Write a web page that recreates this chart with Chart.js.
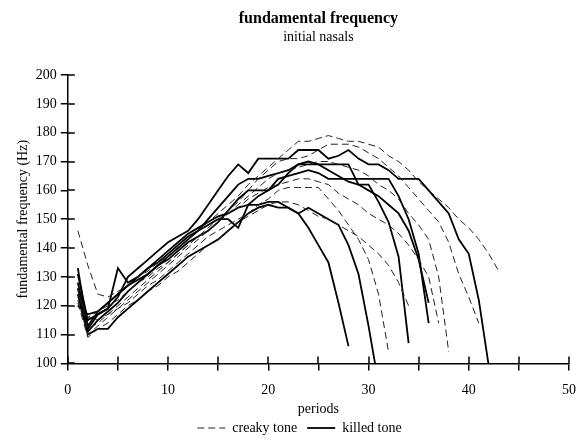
<!DOCTYPE html>
<html>
<head>
<meta charset="utf-8">
<script src="https://cdn.jsdelivr.net/npm/chart.js@4/dist/chart.umd.min.js"></script>
<style>
  html, body { margin: 0; padding: 0; background: #fff; }
  #wrap { width: 588px; height: 441px; }
</style>
</head>
<body>
<div id="wrap"><canvas id="f0"></canvas></div>
<script>
'use strict';

// F0 contours (Hz), one value per period, starting at period 1
const creaky1 = [146,134,124,123,125,127,130,132,135,137,140,143,146,149,152,155,158,162,165,168,171,174,177,177,178,179,178,177,177,176,175,172,170,167,163,160,157,154,150,147,143,138,132];
const creaky2 = [126,112,114,117,120,123,126,129,132,135,138,141,144,147,150,153,156,160,164,167,170,171,171,172,174,176,176,176,175,173,171,168,165,161,157,153,149,142,131,123,114];
const creaky3 = [122,110,113,116,119,122,125,128,131,134,137,140,143,146,149,152,155,158,161,164,166,167,168,169,170,170,169,168,167,165,162,160,157,152,148,143,130,104];
const creaky4 = [120,116,118,120,122,125,128,130,133,135,138,141,144,146,149,152,154,157,159,161,162,163,164,164,163,162,159,157,155,152,150,148,145,141,136,130,114];
const creaky5 = [124,116,115,117,119,121,124,127,129,132,135,138,141,144,146,148,150,152,155,157,160,161,161,161,161,157,153,148,143,136,124,104];
const creaky6 = [121,109,112,114,117,120,122,125,127,130,132,135,138,141,143,146,149,151,153,155,156,156,155,153,151,150,148,146,144,141,138,134,128,120];

const killed1 = [128,113,118,121,124,127,130,133,136,139,142,145,147,149,151,152,154,155,155,156,156,154,152,147,141,135,121,106];
const killed2 = [124,110,112,112,116,119,122,125,128,131,134,137,139,141,143,146,149,152,154,155,154,154,152,154,152,150,148,141,131,113,93];
const killed3 = [131,115,117,119,133,128,130,133,135,138,141,144,146,150,154,158,162,164,164,165,166,167,169,169,169,169,169,169,162,162,156,149,137,107];
const killed4 = [120,117,118,121,124,127,129,131,134,137,140,143,146,148,150,150,147,155,158,160,164,165,166,167,166,164,164,164,164,164,164,164,158,150,138,114];
const killed5 = [126,111,115,118,121,125,128,131,134,136,139,142,144,146,149,153,157,160,160,160,162,166,169,170,169,167,165,163,162,160,158,155,152,146,136,121];
const killed6 = [133,112,117,119,123,130,133,136,139,142,144,146,150,155,160,165,169,166,171,171,171,171,174,174,174,171,172,174,171,169,169,167,164,164,164,160,156,152,143,138,122,99];

const creakySeries = [creaky1, creaky2, creaky3, creaky4, creaky5, creaky6];
const killedSeries = [killed1, killed2, killed3, killed4, killed5, killed6];

const xTicks = [0, 10, 20, 30, 40, 50];
const yTicks = [100, 110, 120, 130, 140, 150, 160, 170, 180, 190, 200];

const SERIF = "'Liberation Serif', 'Times New Roman', serif";

const toPoints = arr => arr.map((v, i) => ({ x: i + 1, y: v }));

const datasets = [
  ...creakySeries.map(s => ({
    label: 'creaky tone', data: toPoints(s),
    borderColor: '#222', borderWidth: 1, borderDash: [7, 4],
  })),
  ...killedSeries.map(s => ({
    label: 'killed tone', data: toPoints(s),
    borderColor: '#000', borderWidth: 1.8,
  })),
];

// inner half of the crossing tick marks
const innerTicks = {
  id: 'innerTicks',
  afterDraw(chart) {
    const { ctx, chartArea: a, scales: { x, y } } = chart;
    ctx.save();
    ctx.strokeStyle = '#000';
    ctx.lineWidth = 1.5;
    ctx.beginPath();
    y.ticks.forEach(t => {
      const py = Math.round(y.getPixelForValue(t.value));
      ctx.moveTo(a.left, py); ctx.lineTo(a.left + 7, py);
    });
    x.ticks.forEach(t => {
      const px = Math.round(x.getPixelForValue(t.value));
      ctx.moveTo(px, a.bottom); ctx.lineTo(px, a.bottom - 7);
    });
    ctx.stroke();
    ctx.restore();
  }
};

new Chart(document.getElementById('f0'), {
  type: 'line',
  data: { datasets },
  options: {
    responsive: true,
    maintainAspectRatio: false,
    animation: false,
    elements: { point: { radius: 0 }, line: { tension: 0 } },
    layout: { padding: { left: 15, right: 4, top: 9, bottom: -4 } },
    plugins: {
      title: {
        display: true, text: 'fundamental frequency', color: '#000', fullSize: false,
        font: { family: SERIF, size: 16, weight: 'bold' }, padding: { top: 0, bottom: 0 },
      },
      subtitle: {
        display: true, text: 'initial nasals', color: '#000', fullSize: false,
        font: { family: SERIF, size: 14 }, padding: { top: 1, bottom: 29 },
      },
      legend: {
        position: 'bottom',
        labels: {
          color: '#000', font: { family: SERIF, size: 14 },
          usePointStyle: true, pointStyleWidth: 28, padding: 10,
          generateLabels: () => [
            { text: 'creaky tone', pointStyle: 'line', strokeStyle: '#222', lineWidth: 1, lineDash: [7, 4], fillStyle: '#000' },
            { text: 'killed tone', pointStyle: 'line', strokeStyle: '#000', lineWidth: 1.8, lineDash: [], fillStyle: '#000' },
          ],
        },
      },
      tooltip: { enabled: false },
    },
    scales: {
      x: {
        type: 'linear', min: 0, max: 50,
        border: { color: '#000', width: 1.5 },
        grid: { drawOnChartArea: false, color: '#000', lineWidth: 1.5, tickLength: 7 },
        ticks: {
          stepSize: 5, color: '#000', font: { family: SERIF, size: 14 }, padding: 12,
          callback: v => xTicks.includes(v) ? String(v) : '',
          maxRotation: 0, autoSkip: false,
        },
        title: { display: true, text: 'periods', color: '#000', font: { family: SERIF, size: 14 }, padding: { top: -10, bottom: -7 } },
      },
      y: {
        type: 'linear', min: 100, max: 200,
        border: { color: '#000', width: 1.5 },
        grid: { drawOnChartArea: false, color: '#000', lineWidth: 1.5, tickLength: 7 },
        afterBuildTicks: s => { s.ticks = yTicks.map(v => ({ value: v })); },
        ticks: { color: '#000', font: { family: SERIF, size: 14 }, padding: 4 },
        title: { display: true, text: 'fundamental frequency (Hz)', color: '#000', font: { family: SERIF, size: 14 }, padding: { top: 0, bottom: 0 } },
      },
    },
  },
  plugins: [innerTicks],
});
</script>
</body>
</html>
